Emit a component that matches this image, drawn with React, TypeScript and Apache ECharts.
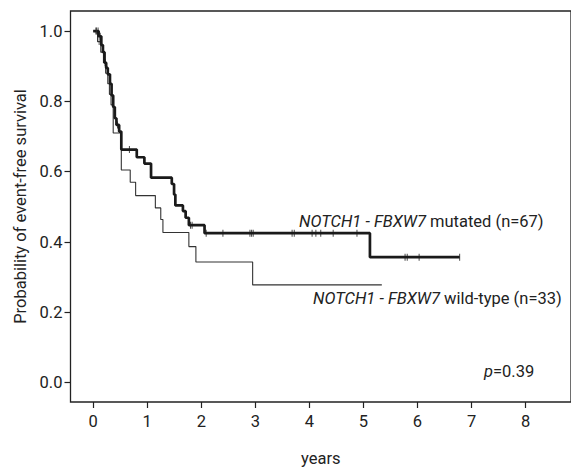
import React, { useEffect, useRef } from "react";
import * as echarts from "echarts";

const xTicks = [0, 1, 2, 3, 4, 5, 6, 7, 8];
const yTicks = [0, 0.2, 0.4, 0.6, 0.8, 1.0];

const mutatedTimes = [0.1, 0.15, 0.18, 0.21, 0.24, 0.27, 0.31, 0.34, 0.37, 0.4, 0.43, 0.48, 0.52, 0.806, 0.947, 1.07, 1.454, 1.496, 1.52, 1.66, 1.71, 1.77, 2.06, 5.12];
const mutatedSurv = [0.985, 0.96, 0.94, 0.91, 0.895, 0.877, 0.85, 0.817, 0.784, 0.752, 0.733, 0.714, 0.663, 0.641, 0.623, 0.583, 0.565, 0.535, 0.504, 0.488, 0.469, 0.448, 0.425, 0.357];
const mutatedEnd = 6.78;
const mutatedCensor = [0.05, 0.09, 0.13, 0.22, 0.45, 0.67, 1.8, 1.83, 2.09, 2.4, 2.9, 2.93, 2.96, 3.68, 3.72, 4.05, 4.12, 4.21, 4.44, 4.88, 5.77, 5.81, 6.03, 6.78];

const wildTimes = [0.08, 0.14, 0.19, 0.23, 0.27, 0.3, 0.33, 0.37, 0.52, 0.685, 0.785, 1.15, 1.25, 1.29, 1.77, 1.9, 2.95];
const wildSurv = [0.97, 0.94, 0.91, 0.88, 0.85, 0.82, 0.79, 0.71, 0.605, 0.57, 0.532, 0.497, 0.464, 0.427, 0.387, 0.343, 0.278];
const wildEnd = 5.34;
const wildCensor = [0.06, 0.11];

const FONT = "Roboto, 'Liberation Sans', sans-serif";
const FS = 16.5;

function stairs(times: number[], surv: number[], end: number) {
  const pts: number[][] = [[0, 1]];
  let prev = 1;
  times.forEach((t, i) => {
    pts.push([t, prev]);
    pts.push([t, surv[i]]);
    prev = surv[i];
  });
  pts.push([end, prev]);
  return pts;
}

function survAt(times: number[], surv: number[], t: number) {
  let s = 1;
  times.forEach((tt, i) => {
    if (tt <= t) s = surv[i];
  });
  return s;
}

export default function App() {
  const ref = useRef<HTMLDivElement>(null);
  useEffect(() => {
    if (!ref.current) return;
    const chart = echarts.init(ref.current, undefined, { renderer: "svg" });
    const labelStyle = { fontFamily: FONT, fontSize: FS, color: "#222" };
    const italic = { fontStyle: "italic", fontFamily: FONT, fontSize: FS, fill: "#222" };
    chart.setOption({
      animation: false,
      backgroundColor: "#fff",
      grid: {
        left: 70.5,
        top: 11,
        right: -3,
        bottom: 472 - 407.7,
        show: true,
        borderColor: "#222",
        borderWidth: 1.3,
        backgroundColor: "transparent",
      },
      xAxis: {
        type: "value",
        min: -0.42,
        max: 8.84,
        name: "years",
        nameLocation: "middle",
        nameGap: 48,
        nameTextStyle: labelStyle,
        axisLine: { show: false, onZero: false },
        splitLine: { show: false },
        axisTick: { show: true, length: 6, inside: false, customValues: xTicks, lineStyle: { color: "#222", width: 1.2 } },
        axisLabel: { ...labelStyle, margin: 11, customValues: xTicks },
      },
      yAxis: {
        type: "value",
        min: -0.055,
        max: 1.057,
        name: "Probability of event-free survival",
        nameLocation: "middle",
        nameGap: 39,
        nameTextStyle: labelStyle,
        axisLine: { show: false, onZero: false },
        splitLine: { show: false },
        axisTick: { show: true, length: 6, inside: false, customValues: yTicks, lineStyle: { color: "#222", width: 1.2 } },
        axisLabel: { ...labelStyle, margin: 8, customValues: yTicks, formatter: (v: number) => v.toFixed(1) },
      },
      series: [
        {
          type: "line",
          data: stairs(wildTimes, wildSurv, wildEnd),
          showSymbol: false,
          lineStyle: { color: "#333", width: 1.1 },
          z: 2,
        },
        {
          type: "line",
          data: stairs(mutatedTimes, mutatedSurv, mutatedEnd),
          showSymbol: false,
          lineStyle: { color: "#1a1a1a", width: 2.7 },
          z: 3,
        },
        {
          type: "scatter",
          data: wildCensor.map((t) => [t, survAt(wildTimes, wildSurv, t)]),
          symbol: "rect",
          symbolSize: [1, 7],
          itemStyle: { color: "#333" },
          z: 4,
        },
        {
          type: "scatter",
          data: mutatedCensor.map((t) => [t, survAt(mutatedTimes, mutatedSurv, t)]),
          symbol: "rect",
          symbolSize: [1, 7],
          itemStyle: { color: "#1a1a1a" },
          z: 4,
        },
      ],
      graphic: [
        {
          type: "text",
          x: 299,
          y: 221,
          style: {
            text: "{i|NOTCH1 - FBXW7} mutated (n=67)",
            fontFamily: FONT,
            fontSize: FS,
            fill: "#222",
            verticalAlign: "middle",
            rich: { i: italic },
          },
        },
        {
          type: "text",
          x: 313,
          y: 298,
          style: {
            text: "{i|NOTCH1 - FBXW7} wild-type (n=33)",
            fontFamily: FONT,
            fontSize: FS,
            fill: "#222",
            verticalAlign: "middle",
            rich: { i: italic },
          },
        },
        {
          type: "text",
          x: 484,
          y: 371,
          style: {
            text: "{i|p}=0.39",
            fontFamily: FONT,
            fontSize: FS,
            fill: "#222",
            verticalAlign: "middle",
            rich: { i: italic },
          },
        },
      ],
    });
    return () => chart.dispose();
  }, []);
  return <div ref={ref} style={{ position: "fixed", left: 0, top: 0, width: 571, height: 472 }} />;
}
